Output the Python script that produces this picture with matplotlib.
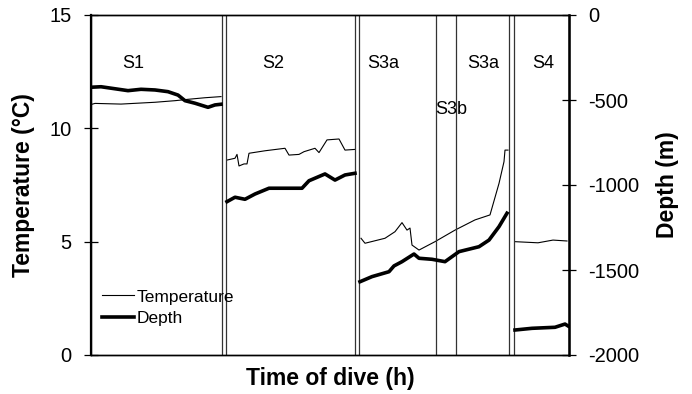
import matplotlib
matplotlib.use("Agg")
import matplotlib.pyplot as plt

plt.rcParams["font.family"] = ["Liberation Sans", "DejaVu Sans"]
plt.rcParams["axes.unicode_minus"] = False

# time axis is arbitrary (no ticks), units run 0..478
# temperature (deg C) per segment
s1_tt = [0, 4, 30, 64, 84, 97, 114, 130]
s1_temp = [11.05, 11.10, 11.07, 11.15, 11.22, 11.28, 11.35, 11.40]
s2_tt = [136, 144, 146, 148, 153, 156, 158, 174, 194, 198, 208, 213, 224, 228, 236, 248, 254, 264]
s2_temp = [8.60, 8.68, 8.85, 8.34, 8.43, 8.43, 8.90, 9.01, 9.12, 8.82, 8.85, 8.97, 9.12, 8.93, 9.49, 9.53, 9.04, 9.07]
s3_tt = [270, 274, 294, 304, 311, 316, 319, 321, 328, 344, 364, 384, 399, 408, 413, 414, 417]
s3_temp = [5.15, 4.93, 5.15, 5.44, 5.84, 5.51, 5.60, 4.85, 4.63, 5.00, 5.51, 5.96, 6.18, 7.57, 8.53, 9.04, 9.04]
s4_tt = [424, 447, 462, 476]
s4_temp = [5.00, 4.95, 5.07, 5.03]

# depth (m) per segment
s1_td = [0, 10, 37, 50, 64, 77, 87, 94, 104, 117, 124, 130]
s1_depth = [-425, -422, -445, -437, -441, -451, -471, -504, -519, -543, -529, -525]
s2_td = [136, 144, 154, 164, 178, 211, 218, 234, 244, 254, 264]
s2_depth = [-1098, -1072, -1084, -1053, -1019, -1019, -975, -935, -971, -941, -931]
s3_td = [269, 281, 298, 303, 311, 323, 328, 341, 354, 368, 388, 398, 408, 416]
s3_depth = [-1569, -1539, -1510, -1476, -1451, -1406, -1431, -1437, -1451, -1392, -1363, -1324, -1245, -1166]
s4_td = [424, 441, 464, 474, 477]
s4_depth = [-1853, -1843, -1837, -1818, -1829]

# segment boundaries and labels
bounds = [131, 135, 264, 268, 345, 365, 418, 423]
seg_labels = ["S1", "S2", "S3a", "S3b", "S3a", "S4"]
seg_label_t = [42, 182, 292, 360, 392, 452]
seg_label_temp = [12.86, 12.86, 12.86, 10.85, 12.86, 12.86]

fig = plt.figure(figsize=(6.92, 3.94), dpi=100)
ax = fig.add_axes([91 / 692, 39 / 394, 478 / 692, 340 / 394])
ax2 = ax.twinx()

temps = [(s1_tt, s1_temp), (s2_tt, s2_temp), (s3_tt, s3_temp), (s4_tt, s4_temp)]
depths = [(s1_td, s1_depth), (s2_td, s2_depth), (s3_td, s3_depth), (s4_td, s4_depth)]

for i, (t, v) in enumerate(temps):
    ax.plot(t, v, color="black", lw=0.8, label="Temperature" if i == 0 else None)
for i, (t, v) in enumerate(depths):
    ax2.plot(t, v, color="black", lw=2.6, label="Depth" if i == 0 else None)

for b in bounds:
    ax.axvline(b, color="#333333", lw=0.9)

for lab, t, y in zip(seg_labels, seg_label_t, seg_label_temp):
    ax.text(t, y, lab, fontsize=13, ha="center", va="center")

ax.set_xlim(0, 478)
ax.set_ylim(0, 15)
ax2.set_ylim(-2000, 0)
ax.set_xticks([])
ax.set_yticks([0, 5, 10, 15])
ax2.set_yticks([-2000, -1500, -1000, -500, 0])

for a in (ax, ax2):
    a.tick_params(axis="y", direction="inout", length=10, width=0.9, labelsize=14.5, pad=9)
    for s in a.spines.values():
        s.set_linewidth(1.0)
ax.spines["left"].set_linewidth(1.6)
ax2.spines["right"].set_linewidth(1.8)

ax.set_ylabel("Temperature (°C)", fontsize=16.5, fontweight="bold", labelpad=10)
ax2.set_ylabel("Depth (m)", fontsize=16.5, fontweight="bold", labelpad=12)
ax.set_xlabel("Time of dive (h)", fontsize=16.5, fontweight="bold", labelpad=9)

h1, l1 = ax.get_legend_handles_labels()
h2, l2 = ax2.get_legend_handles_labels()
ax2.legend(h1 + h2, l1 + l2, loc="lower left", bbox_to_anchor=(-0.01, 0.04),
           frameon=False, fontsize=12.5, handlelength=1.85, handletextpad=0.15,
           labelspacing=0.35)

fig.savefig("out.png", dpi=100)
